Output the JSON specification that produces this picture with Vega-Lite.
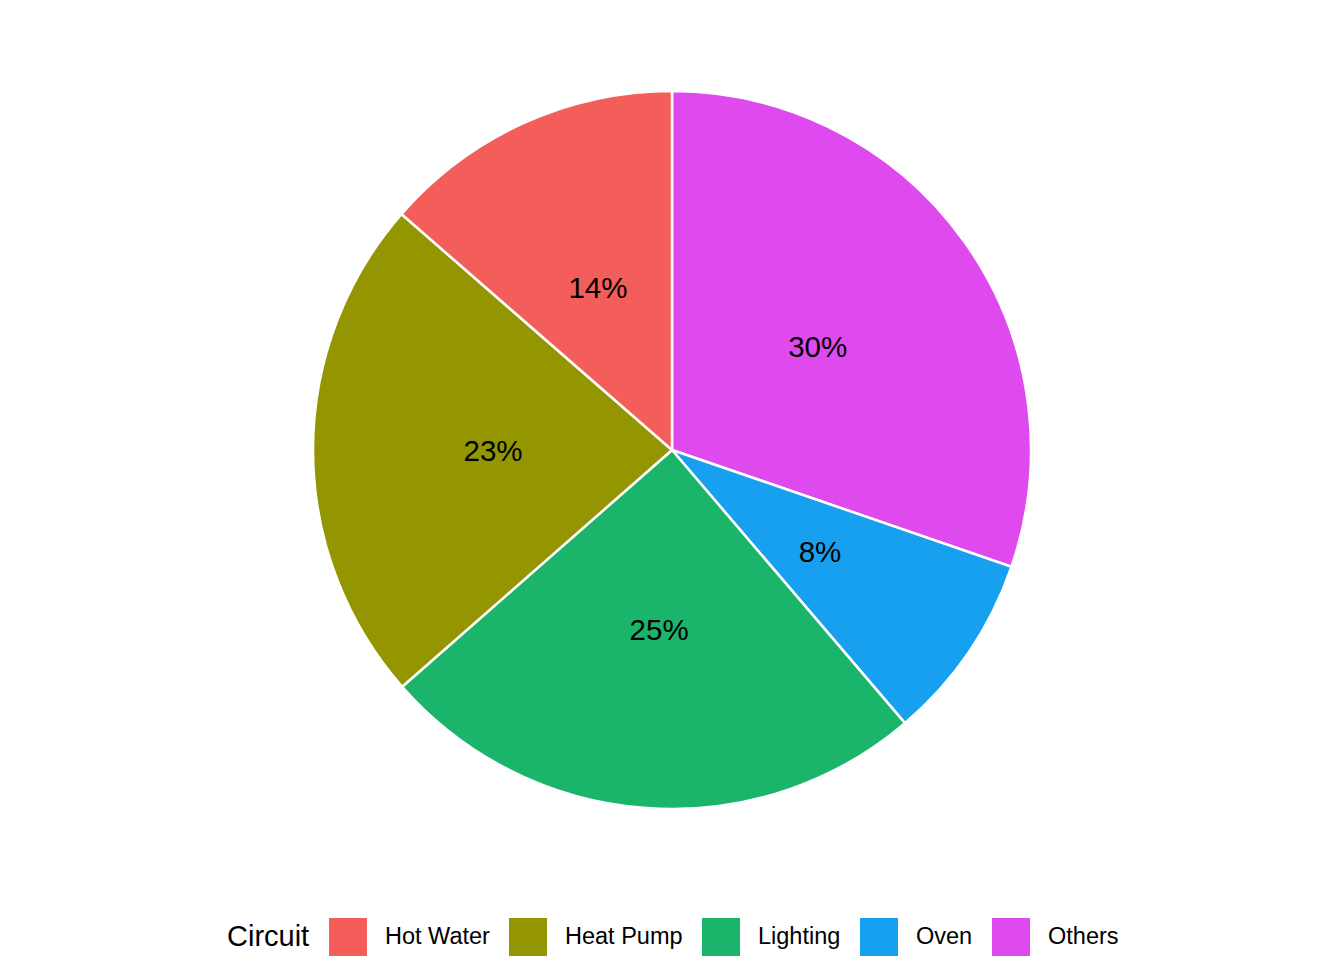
{
  "$schema": "https://vega.github.io/schema/vega-lite/v6.json",
  "width": 1344,
  "height": 900,
  "padding": 0,
  "autosize": {"type": "pad"},
  "background": "white",
  "config": {"view": {"stroke": null}, "font": "Liberation Sans"},
  "data": {
    "values": [
      {"Circuit": "Others", "share": 30.3, "ord": 1, "label": "30%"},
      {"Circuit": "Oven", "share": 8.5, "ord": 2, "label": "8%"},
      {"Circuit": "Lighting", "share": 24.8, "ord": 3, "label": "25%"},
      {"Circuit": "Heat Pump", "share": 22.9, "ord": 4, "label": "23%"},
      {"Circuit": "Hot Water", "share": 13.6, "ord": 5, "label": "14%"}
    ]
  },
  "encoding": {
    "theta": {"field": "share", "type": "quantitative", "stack": true},
    "order": {"field": "ord", "type": "quantitative"}
  },
  "layer": [
    {
      "mark": {"type": "arc", "outerRadius": 359, "stroke": "white", "strokeWidth": 2.5},
      "encoding": {
        "color": {
          "field": "Circuit",
          "type": "nominal",
          "scale": {
            "domain": ["Hot Water", "Heat Pump", "Lighting", "Oven", "Others"],
            "range": ["#F35E5A", "#939600", "#1BB46B", "#16A0EF", "#DF4AEF"]
          },
          "legend": {
            "orient": "none",
            "direction": "horizontal",
            "legendX": 227,
            "legendY": 918,
            "title": "Circuit",
            "titleOrient": "left",
            "titleFontSize": 29,
            "titleFontWeight": "normal",
            "titleColor": "black",
            "titlePadding": 19,
            "titleBaseline": "middle",
            "labelFontSize": 23.5,
            "labelColor": "black",
            "labelOffset": 18,
            "columnPadding": 19,
            "symbolType": "square",
            "symbolSize": 1444,
            "symbolStrokeWidth": 0,
            "symbolOpacity": 1
          }
        }
      }
    },
    {
      "mark": {"type": "text", "radius": 179, "fontSize": 29.5, "dy": 2, "color": "black"},
      "encoding": {"text": {"field": "label"}}
    }
  ]
}
